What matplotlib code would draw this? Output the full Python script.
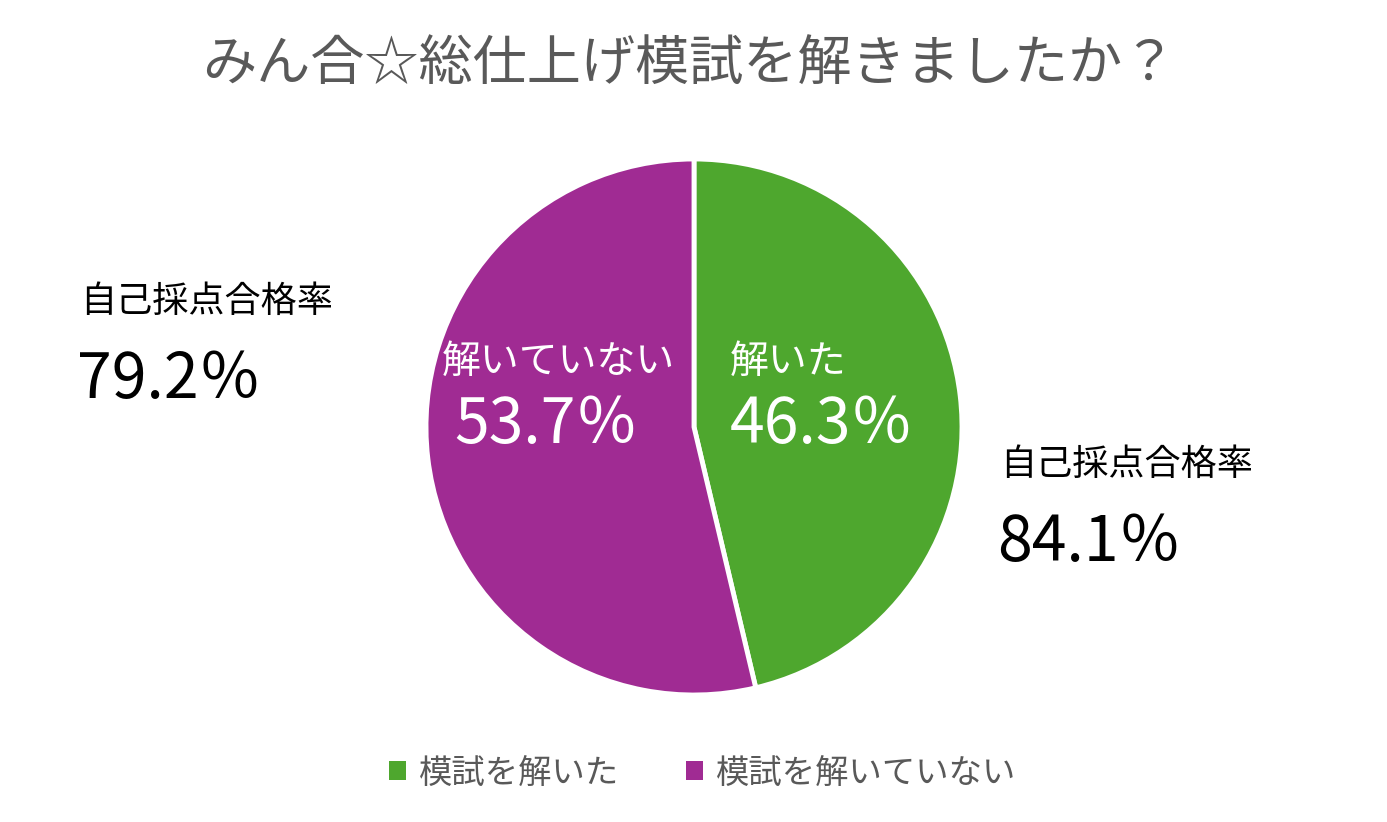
import matplotlib
matplotlib.use("Agg")
import matplotlib.pyplot as plt
from matplotlib.patches import Patch

plt.rcParams['font.family'] = ['Noto Sans CJK JP', 'DejaVu Sans']

title = "みん合☆総仕上げ模試を解きましたか？"
categories = ["模試を解いた", "模試を解いていない"]
inner_labels = ["解いた", "解いていない"]
values = [46.3, 53.7]
colors = ["#4EA72E", "#A02B93"]
side_label = "自己採点合格率"
side_values = ["84.1％", "79.2％"]

W, H = 1387, 822
fig = plt.figure(figsize=(W / 100, H / 100), dpi=100)
fig.patch.set_facecolor("white")

r = 268
cx, cy = 694, 427
ax = fig.add_axes([(cx - r) / W, 1 - (cy + r) / H, 2 * r / W, 2 * r / H])
wedges, _ = ax.pie(values, colors=colors, startangle=90, counterclock=False,
                   wedgeprops=dict(edgecolor="white", linewidth=3.5))
ax.set_aspect("equal")
ax.set_xlim(-1, 1)
ax.set_ylim(-1, 1)

def fx(px):
    return px / W

def fy(py):
    return 1 - py / H

fig.text(fx(689), fy(65), title, ha="center", va="center", fontsize=39, color="#595959")

# inner labels
fig.text(fx(730), fy(362), inner_labels[0], ha="left", va="center", fontsize=28, color="white")
fig.text(fx(730), fy(425), f"{values[0]}％", ha="left", va="center", fontsize=45, color="white")
fig.text(fx(558), fy(362), inner_labels[1], ha="center", va="center", fontsize=28, color="white")
fig.text(fx(546), fy(425), f"{values[1]}％", ha="center", va="center", fontsize=45, color="white")

# side annotations
fig.text(fx(1000), fy(465), side_label, ha="left", va="center", fontsize=26, color="black")
fig.text(fx(997), fy(543), side_values[0], ha="left", va="center", fontsize=45, color="black")
fig.text(fx(80), fy(302), side_label, ha="left", va="center", fontsize=26, color="black")
fig.text(fx(77), fy(380), side_values[1], ha="left", va="center", fontsize=45, color="black")

handles = [Patch(facecolor=c, edgecolor="none") for c in colors]
leg = fig.legend(handles, categories, loc="center", bbox_to_anchor=(fx(703), fy(773)),
                 ncol=2, frameon=False, fontsize=24, handlelength=0.5, handleheight=0.5,
                 handletextpad=0.4, columnspacing=2.0)
for t in leg.get_texts():
    t.set_color("#595959")

fig.savefig("out.png", dpi=100, facecolor="white")
